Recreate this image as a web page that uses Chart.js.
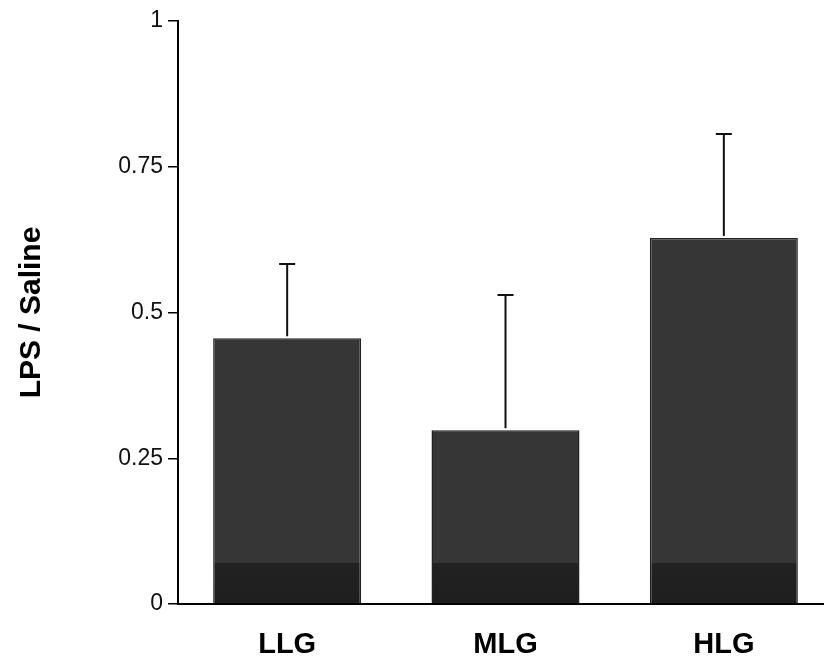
<!DOCTYPE html>
<html>
<head>
<meta charset="utf-8">
<script src="https://cdn.jsdelivr.net/npm/chart.js@4.4.1/dist/chart.umd.min.js"></script>
<style>
  html, body { margin: 0; padding: 0; background: #fff; overflow: hidden; }
  canvas { display: block; }
</style>
</head>
<body>
<canvas id="chart" width="840" height="664"></canvas>
<script>
// values
const categories = ["LLG", "MLG", "HLG"];
const ratioMeans = [0.456, 0.298, 0.628];
const ratioErrors = [0.127, 0.232, 0.178];
const yTicks = [0, 0.25, 0.5, 0.75, 1];

// error bars (upper only), drawn from the data through the y scale
const errorBarPlugin = {
  id: "errorBars",
  afterDatasetsDraw(chart) {
    const ctx = chart.ctx;
    const y = chart.scales.y;
    const meta = chart.getDatasetMeta(0);
    ctx.save();
    ctx.strokeStyle = "#111";
    ctx.lineWidth = 2;
    meta.data.forEach((bar, i) => {
      const top = y.getPixelForValue(ratioMeans[i] + ratioErrors[i]);
      const base = y.getPixelForValue(ratioMeans[i]);
      ctx.beginPath();
      ctx.moveTo(bar.x, base - 2);
      ctx.lineTo(bar.x, top);
      ctx.moveTo(bar.x - 8, top);
      ctx.lineTo(bar.x + 8, top);
      ctx.stroke();
    });
    ctx.restore();
  },
};

// darker band at the foot of each bar, like the scanned print
function barFill(context) {
  const chart = context.chart;
  const area = chart.chartArea;
  if (!area) return "#363636";
  const y = chart.scales.y;
  const g = chart.ctx.createLinearGradient(0, area.bottom, 0, area.top);
  const cut = (area.bottom - y.getPixelForValue(0.07)) / (area.bottom - area.top);
  g.addColorStop(0, "#1e1e1e");
  g.addColorStop(cut, "#222222");
  g.addColorStop(cut + 0.001, "#363636");
  g.addColorStop(1, "#363636");
  return g;
}

new Chart(document.getElementById("chart"), {
  type: "bar",
  data: {
    labels: categories,
    datasets: [
      {
        data: ratioMeans,
        backgroundColor: barFill,
        borderColor: "#222",
        borderWidth: 1.5,
        barPercentage: 0.678,
        categoryPercentage: 1,
      },
    ],
  },
  plugins: [errorBarPlugin],
  options: {
    responsive: false,
    animation: false,
    layout: { padding: { top: 21, right: 7, left: 0, bottom: 0 } },
    plugins: {
      legend: { display: false },
      tooltip: { enabled: false },
    },
    scales: {
      x: {
        grid: { display: false },
        border: { display: true, color: "#000", width: 2 },
        ticks: {
          color: "#000",
          padding: 16,
          font: { family: "'Liberation Sans', Arial, sans-serif", size: 29, weight: "bold" },
        },
        afterFit(scale) { scale.height = 60; },
      },
      y: {
        min: 0,
        max: 1,
        afterBuildTicks(scale) { scale.ticks = yTicks.map((v) => ({ value: v })); },
        grid: { drawOnChartArea: false, drawTicks: true, tickLength: 10, color: "#000", lineWidth: 1.5 },
        border: { display: true, color: "#000", width: 2 },
        ticks: {
          color: "#111",
          padding: 5,
          font: { family: "'Liberation Sans', Arial, sans-serif", size: 23 },
          callback: (v) => String(v),
        },
        title: {
          display: true,
          text: "LPS / Saline",
          color: "#000",
          padding: { top: 14, bottom: 0 },
          font: { family: "'Liberation Sans', Arial, sans-serif", size: 30, weight: "bold" },
        },
        afterFit(scale) { scale.width = 178; },
      },
    },
  },
});
</script>
</body>
</html>
